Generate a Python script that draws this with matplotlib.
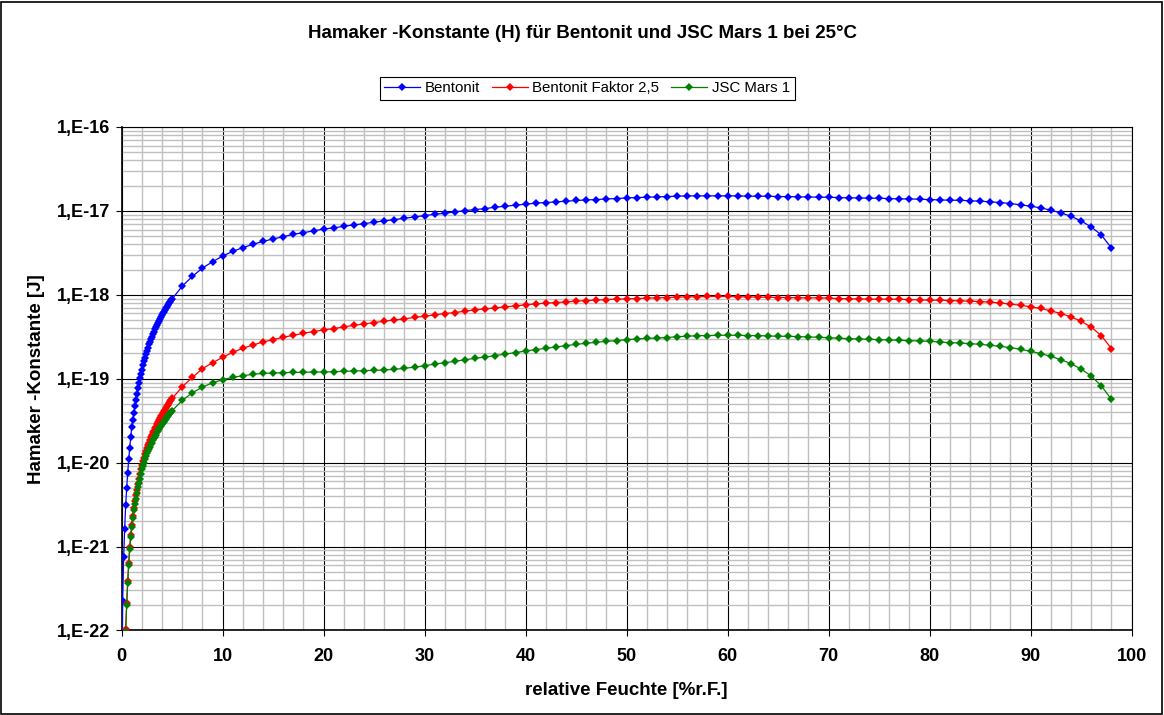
import numpy as np
import matplotlib
matplotlib.use('Agg')
import matplotlib.pyplot as plt
from matplotlib.ticker import FixedLocator, MultipleLocator, FuncFormatter, NullFormatter
from matplotlib.patches import Rectangle

plt.rcParams['font.family'] = ['Liberation Sans', 'DejaVu Sans']

# relative Feuchte: fine steps 0..5 %r.F., then whole percent 6..98
x_fine = np.round(np.arange(0.0, 5.05, 0.1), 1)
x_coarse = np.arange(6, 99, 1)
y_decades = [-22, -21, -20, -19, -18, -17, -16]

# log10 of the Hamaker constant [J]
bent_fine = [-23.0, -21.65, -21.13, -20.79, -20.51, -20.30, -20.12, -19.96, -19.82, -19.69,
             -19.58, -19.49, -19.41, -19.33, -19.25, -19.18, -19.11, -19.05, -18.99, -18.94,
             -18.89, -18.84, -18.79, -18.75, -18.71, -18.67, -18.63, -18.59, -18.56, -18.53,
             -18.50, -18.47, -18.44, -18.41, -18.38, -18.36, -18.33, -18.31, -18.29, -18.26,
             -18.24, -18.22, -18.20, -18.18, -18.16, -18.14, -18.12, -18.10, -18.08, -18.06,
             -18.05]
bent_coarse = [-17.896, -17.781, -17.681, -17.606, -17.538, -17.482, -17.438, -17.398, -17.363, -17.335,
               -17.307, -17.279, -17.259, -17.239, -17.215, -17.203, -17.183, -17.167, -17.151, -17.135,
               -17.120, -17.104, -17.088, -17.072, -17.056, -17.040, -17.028, -17.012, -16.996, -16.984,
               -16.972, -16.956, -16.944, -16.932, -16.920, -16.908, -16.900, -16.892, -16.884, -16.876,
               -16.869, -16.865, -16.857, -16.853, -16.845, -16.841, -16.837, -16.833, -16.829, -16.825,
               -16.821, -16.821, -16.821, -16.821, -16.821, -16.821, -16.825, -16.825, -16.825, -16.829,
               -16.829, -16.833, -16.833, -16.837, -16.837, -16.841, -16.845, -16.845, -16.849, -16.849,
               -16.853, -16.857, -16.857, -16.861, -16.865, -16.869, -16.873, -16.873, -16.880, -16.884,
               -16.892, -16.900, -16.912, -16.928, -16.944, -16.964, -16.992, -17.024, -17.064, -17.120,
               -17.191, -17.287, -17.442]

faktor_fine = [-24.0, -23.4, -22.8, -22.35, -21.98, -21.67, -21.41, -21.19, -21.00, -20.86,
               -20.74, -20.63, -20.54, -20.46, -20.39, -20.32, -20.25, -20.20, -20.14, -20.08,
               -20.03, -19.98, -19.94, -19.90, -19.86, -19.82, -19.79, -19.76, -19.73, -19.70,
               -19.67, -19.64, -19.62, -19.59, -19.57, -19.54, -19.52, -19.49, -19.47, -19.45,
               -19.43, -19.41, -19.39, -19.37, -19.35, -19.33, -19.31, -19.29, -19.27, -19.25,
               -19.235]
faktor_coarse = [-19.096, -18.984, -18.880, -18.809, -18.745, -18.685, -18.637, -18.598, -18.562, -18.534,
                 -18.506, -18.482, -18.458, -18.438, -18.418, -18.402, -18.382, -18.363, -18.347, -18.331,
                 -18.315, -18.299, -18.287, -18.269, -18.255, -18.239, -18.223, -18.211, -18.195, -18.179,
                 -18.167, -18.155, -18.143, -18.131, -18.119, -18.108, -18.100, -18.092, -18.084, -18.076,
                 -18.068, -18.064, -18.056, -18.052, -18.048, -18.044, -18.040, -18.036, -18.032, -18.028,
                 -18.024, -18.024, -18.020, -18.020, -18.020, -18.024, -18.024, -18.028, -18.028, -18.032,
                 -18.032, -18.036, -18.036, -18.036, -18.040, -18.044, -18.048, -18.048, -18.052, -18.052,
                 -18.052, -18.054, -18.056, -18.060, -18.064, -18.064, -18.068, -18.072, -18.076, -18.080,
                 -18.088, -18.096, -18.112, -18.124, -18.143, -18.163, -18.191, -18.223, -18.263, -18.315,
                 -18.386, -18.486, -18.641]

jsc_fine = [-24.05, -23.45, -22.85, -22.4, -22.02, -21.70, -21.44, -21.22, -21.03, -20.89,
            -20.77, -20.66, -20.57, -20.49, -20.43, -20.36, -20.29, -20.24, -20.19, -20.13,
            -20.08, -20.04, -20.00, -19.96, -19.92, -19.89, -19.86, -19.84, -19.81, -19.78,
            -19.76, -19.73, -19.71, -19.69, -19.67, -19.64, -19.62, -19.60, -19.58, -19.56,
            -19.545, -19.525, -19.51, -19.49, -19.475, -19.46, -19.44, -19.425, -19.41, -19.395,
            -19.38]
jsc_coarse = [-19.259, -19.167, -19.100, -19.048, -19.012, -18.984, -18.964, -18.948, -18.936, -18.932,
              -18.928, -18.924, -18.924, -18.920, -18.920, -18.916, -18.912, -18.908, -18.904, -18.900,
              -18.896, -18.888, -18.876, -18.862, -18.845, -18.825, -18.809, -18.793, -18.773, -18.757,
              -18.741, -18.725, -18.705, -18.689, -18.669, -18.653, -18.637, -18.622, -18.606, -18.590,
              -18.578, -18.566, -18.554, -18.546, -18.534, -18.526, -18.520, -18.514, -18.510, -18.498,
              -18.494, -18.486, -18.486, -18.482, -18.482, -18.482, -18.486, -18.486, -18.490, -18.494,
              -18.494, -18.498, -18.502, -18.506, -18.510, -18.518, -18.522, -18.526, -18.530, -18.534,
              -18.538, -18.542, -18.546, -18.550, -18.554, -18.562, -18.570, -18.574, -18.582, -18.590,
              -18.602, -18.614, -18.629, -18.649, -18.673, -18.701, -18.733, -18.773, -18.821, -18.884,
              -18.968, -19.084, -19.247]

series = [
    ('Bentonit', bent_fine, bent_coarse, '#0000FF'),
    ('Bentonit Faktor 2,5', faktor_fine, faktor_coarse, '#FF0000'),
    ('JSC Mars 1', jsc_fine, jsc_coarse, '#008000'),
]

fig = plt.figure(figsize=(11.64, 7.15), dpi=100)
ax = fig.add_axes([0.1045, 0.1182, 0.8677, 0.7042])

x_all = np.concatenate([x_fine, x_coarse])
for label, fine, coarse, color in series:
    y = 10.0 ** np.concatenate([fine, coarse])
    ax.plot(x_all, y, color=color, lw=0.9, marker='D', markersize=3.6,
            markeredgewidth=0, label=label, zorder=3)

ax.set_yscale('log')
ax.set_ylim(1e-22, 1e-16)
ax.set_xlim(0, 100)
ax.xaxis.set_major_locator(MultipleLocator(10))
ax.xaxis.set_minor_locator(MultipleLocator(2))
# fixed decade ticks, minor lines at 2..9 of each decade inside the range
major_y = [10.0 ** d for d in y_decades]
minor_y = [k * 10.0 ** d for d in y_decades[:-1] for k in range(2, 10)]
ax.yaxis.set_major_locator(FixedLocator(major_y))
ax.yaxis.set_minor_locator(FixedLocator(minor_y))
ax.yaxis.set_minor_formatter(NullFormatter())
ax.yaxis.set_major_formatter(FuncFormatter(lambda v, p: f'1,E{int(round(np.log10(v)))}'))

ax.set_axisbelow(True)
ax.grid(which='minor', color='#c0c0c0', lw=1.0)
ax.grid(which='major', color='black', lw=0.8)
ax.tick_params(which='major', direction='out', length=4.5, width=0.8, labelsize=13)
ax.tick_params(axis='y', which='major', pad=4)
ax.tick_params(axis='x', which='major', pad=8)
ax.tick_params(which='minor', length=0)
for lbl in ax.get_xticklabels() + ax.get_yticklabels():
    lbl.set_fontweight('bold')
for sp in ax.spines.values():
    sp.set_color('black')
    sp.set_linewidth(0.8)
ax.spines['left'].set_linewidth(1.2)
ax.spines['bottom'].set_linewidth(1.2)

ax.set_xlabel('relative Feuchte [%r.F.]', fontsize=13.5, fontweight='bold', labelpad=12)
ax.set_ylabel('Hamaker -Konstante [J]', fontsize=13.5, fontweight='bold', labelpad=8)

fig.text(583 / 1164, 1 - 33 / 715, 'Hamaker -Konstante (H) für Bentonit und JSC Mars 1 bei 25°C',
         ha='center', va='center', fontsize=13.5, fontweight='bold')

leg = ax.legend(loc='center', bbox_to_anchor=(587 / 1164, 1 - 88 / 715),
                bbox_transform=fig.transFigure, ncol=3, fontsize=10.8, frameon=True,
                fancybox=False, edgecolor='black', framealpha=1, handlelength=2.4,
                handletextpad=0.3, columnspacing=0.8, borderpad=0.3, borderaxespad=0)
leg.get_frame().set_linewidth(0.8)

fig.patches.append(Rectangle((0.001, 0.0015), 0.997, 0.996, transform=fig.transFigure,
                             fill=False, edgecolor='black', lw=1.2))

fig.savefig('out.png', dpi=100)
